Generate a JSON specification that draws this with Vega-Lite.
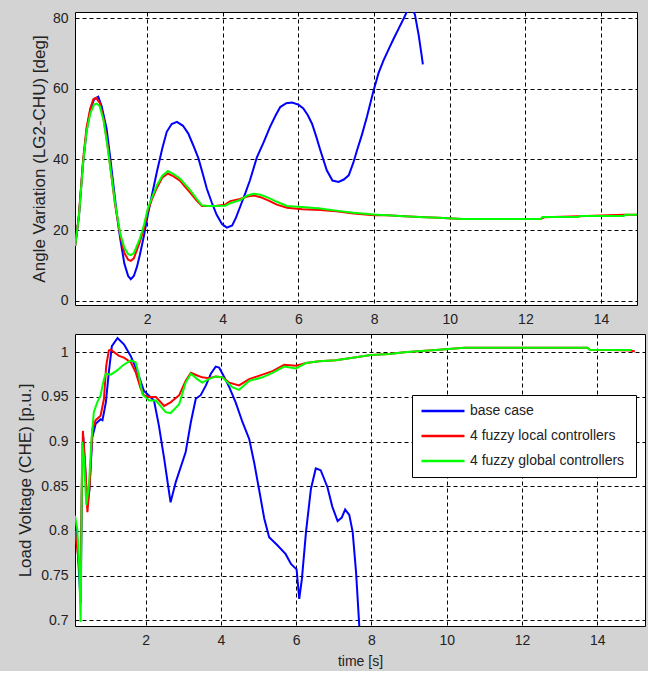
{
  "$schema": "https://vega.github.io/schema/vega-lite/v6.json",
  "background": "#d3d3d3",
  "padding": {"left": 16, "top": 10, "right": 2, "bottom": 2},
  "spacing": 6,
  "config": {
    "view": {"stroke": "black", "strokeWidth": 1, "fill": "white"},
    "axis": {
      "domain": false, "ticks": false, "grid": true, "gridColor": "black", "gridOpacity": 1,
      "gridDash": [4, 3], "gridWidth": 1,
      "labelFont": "Liberation Sans", "labelFontSize": 14, "labelColor": "#222",
      "labelPadding": 7,
      "titleFont": "Liberation Sans", "titleFontWeight": "normal", "titleColor": "#222"
    },
    "legend": {"labelFont": "Liberation Sans", "labelFontSize": 14, "labelColor": "#222"}
  },
  "resolve": {"scale": {"color": "independent"}, "legend": {"color": "independent"}},
  "datasets": {
    "top": [
      {"t":0.1,"v":15.5,"s":"base case"},{"t":0.2,"v":24,"s":"base case"},{"t":0.3,"v":38,"s":"base case"},{"t":0.4,"v":48,"s":"base case"},{"t":0.5,"v":54,"s":"base case"},{"t":0.6,"v":57,"s":"base case"},{"t":0.71,"v":57.7,"s":"base case"},{"t":0.8,"v":55,"s":"base case"},{"t":0.93,"v":48.7,"s":"base case"},{"t":1.02,"v":41,"s":"base case"},{"t":1.11,"v":32.8,"s":"base case"},{"t":1.2,"v":24.5,"s":"base case"},{"t":1.29,"v":17.6,"s":"base case"},{"t":1.4,"v":10.5,"s":"base case"},{"t":1.5,"v":7,"s":"base case"},{"t":1.57,"v":6.1,"s":"base case"},{"t":1.65,"v":7,"s":"base case"},{"t":1.73,"v":9.5,"s":"base case"},{"t":1.81,"v":13,"s":"base case"},{"t":1.92,"v":18.5,"s":"base case"},{"t":2.02,"v":24.3,"s":"base case"},{"t":2.14,"v":30.5,"s":"base case"},{"t":2.26,"v":36.5,"s":"base case"},{"t":2.4,"v":43,"s":"base case"},{"t":2.52,"v":47.8,"s":"base case"},{"t":2.65,"v":50,"s":"base case"},{"t":2.79,"v":50.6,"s":"base case"},{"t":2.95,"v":49.5,"s":"base case"},{"t":3.09,"v":47.3,"s":"base case"},{"t":3.22,"v":44,"s":"base case"},{"t":3.36,"v":40.2,"s":"base case"},{"t":3.47,"v":36,"s":"base case"},{"t":3.58,"v":31.7,"s":"base case"},{"t":3.71,"v":27.8,"s":"base case"},{"t":3.84,"v":24.3,"s":"base case"},{"t":3.98,"v":21.7,"s":"base case"},{"t":4.11,"v":20.7,"s":"base case"},{"t":4.25,"v":21.3,"s":"base case"},{"t":4.35,"v":23.5,"s":"base case"},{"t":4.46,"v":26.6,"s":"base case"},{"t":4.6,"v":30.5,"s":"base case"},{"t":4.72,"v":34.1,"s":"base case"},{"t":4.9,"v":40.5,"s":"base case"},{"t":5.08,"v":44.8,"s":"base case"},{"t":5.25,"v":49.2,"s":"base case"},{"t":5.4,"v":52.5,"s":"base case"},{"t":5.52,"v":54.8,"s":"base case"},{"t":5.68,"v":55.9,"s":"base case"},{"t":5.83,"v":56.1,"s":"base case"},{"t":6.0,"v":55.5,"s":"base case"},{"t":6.13,"v":54.4,"s":"base case"},{"t":6.25,"v":52.5,"s":"base case"},{"t":6.36,"v":50.1,"s":"base case"},{"t":6.47,"v":46.5,"s":"base case"},{"t":6.58,"v":42.6,"s":"base case"},{"t":6.75,"v":36.9,"s":"base case"},{"t":6.9,"v":34,"s":"base case"},{"t":7.06,"v":33.6,"s":"base case"},{"t":7.2,"v":34.3,"s":"base case"},{"t":7.33,"v":35.5,"s":"base case"},{"t":7.45,"v":39,"s":"base case"},{"t":7.55,"v":42.6,"s":"base case"},{"t":7.68,"v":47,"s":"base case"},{"t":7.81,"v":52,"s":"base case"},{"t":7.99,"v":59.6,"s":"base case"},{"t":8.12,"v":64.5,"s":"base case"},{"t":8.25,"v":68,"s":"base case"},{"t":8.4,"v":71.5,"s":"base case"},{"t":8.52,"v":74.2,"s":"base case"},{"t":8.65,"v":77,"s":"base case"},{"t":8.78,"v":79.8,"s":"base case"},{"t":8.9,"v":82.5,"s":"base case"},{"t":8.98,"v":83,"s":"base case"},{"t":9.08,"v":81,"s":"base case"},{"t":9.18,"v":75.1,"s":"base case"},{"t":9.25,"v":70,"s":"base case"},{"t":9.29,"v":66.9,"s":"base case"},

      {"t":0.1,"v":15.5,"s":"4 fuzzy  local controllers"},{"t":0.2,"v":24.5,"s":"4 fuzzy  local controllers"},{"t":0.31,"v":40,"s":"4 fuzzy  local controllers"},{"t":0.4,"v":49,"s":"4 fuzzy  local controllers"},{"t":0.5,"v":54.5,"s":"4 fuzzy  local controllers"},{"t":0.58,"v":57,"s":"4 fuzzy  local controllers"},{"t":0.65,"v":57.4,"s":"4 fuzzy  local controllers"},{"t":0.75,"v":56,"s":"4 fuzzy  local controllers"},{"t":0.85,"v":51.5,"s":"4 fuzzy  local controllers"},{"t":0.95,"v":44.5,"s":"4 fuzzy  local controllers"},{"t":1.05,"v":36,"s":"4 fuzzy  local controllers"},{"t":1.15,"v":27.5,"s":"4 fuzzy  local controllers"},{"t":1.29,"v":18.5,"s":"4 fuzzy  local controllers"},{"t":1.4,"v":13.5,"s":"4 fuzzy  local controllers"},{"t":1.5,"v":11.6,"s":"4 fuzzy  local controllers"},{"t":1.57,"v":11.3,"s":"4 fuzzy  local controllers"},{"t":1.65,"v":12,"s":"4 fuzzy  local controllers"},{"t":1.81,"v":16.7,"s":"4 fuzzy  local controllers"},{"t":1.92,"v":20.5,"s":"4 fuzzy  local controllers"},{"t":2.02,"v":25.5,"s":"4 fuzzy  local controllers"},{"t":2.14,"v":29,"s":"4 fuzzy  local controllers"},{"t":2.26,"v":32,"s":"4 fuzzy  local controllers"},{"t":2.4,"v":34.8,"s":"4 fuzzy  local controllers"},{"t":2.55,"v":36,"s":"4 fuzzy  local controllers"},{"t":2.7,"v":35.2,"s":"4 fuzzy  local controllers"},{"t":2.87,"v":34,"s":"4 fuzzy  local controllers"},{"t":3.0,"v":32.3,"s":"4 fuzzy  local controllers"},{"t":3.14,"v":30.6,"s":"4 fuzzy  local controllers"},{"t":3.3,"v":28.5,"s":"4 fuzzy  local controllers"},{"t":3.45,"v":26.8,"s":"4 fuzzy  local controllers"},{"t":3.6,"v":26.8,"s":"4 fuzzy  local controllers"},{"t":3.8,"v":26.8,"s":"4 fuzzy  local controllers"},{"t":4.06,"v":27.2,"s":"4 fuzzy  local controllers"},{"t":4.2,"v":28.2,"s":"4 fuzzy  local controllers"},{"t":4.46,"v":28.8,"s":"4 fuzzy  local controllers"},{"t":4.65,"v":29.5,"s":"4 fuzzy  local controllers"},{"t":4.81,"v":29.8,"s":"4 fuzzy  local controllers"},{"t":5.0,"v":29.3,"s":"4 fuzzy  local controllers"},{"t":5.2,"v":28.4,"s":"4 fuzzy  local controllers"},{"t":5.43,"v":27.2,"s":"4 fuzzy  local controllers"},{"t":5.7,"v":26.3,"s":"4 fuzzy  local controllers"},{"t":6.1,"v":25.9,"s":"4 fuzzy  local controllers"},{"t":6.58,"v":25.7,"s":"4 fuzzy  local controllers"},{"t":7.0,"v":25.3,"s":"4 fuzzy  local controllers"},{"t":7.46,"v":24.7,"s":"4 fuzzy  local controllers"},{"t":8.0,"v":24.2,"s":"4 fuzzy  local controllers"},{"t":8.34,"v":24.2,"s":"4 fuzzy  local controllers"},{"t":8.8,"v":23.9,"s":"4 fuzzy  local controllers"},{"t":9.2,"v":23.7,"s":"4 fuzzy  local controllers"},{"t":9.7,"v":23.5,"s":"4 fuzzy  local controllers"},{"t":10.33,"v":23.1,"s":"4 fuzzy  local controllers"},{"t":11,"v":23.1,"s":"4 fuzzy  local controllers"},{"t":12.4,"v":23.1,"s":"4 fuzzy  local controllers"},{"t":12.5,"v":23.6,"s":"4 fuzzy  local controllers"},{"t":13.4,"v":23.9,"s":"4 fuzzy  local controllers"},{"t":14.6,"v":24.3,"s":"4 fuzzy  local controllers"},{"t":15,"v":24.3,"s":"4 fuzzy  local controllers"},

      {"t":0.1,"v":15.5,"s":"4 fuzzy  global controllers"},{"t":0.2,"v":24,"s":"4 fuzzy  global controllers"},{"t":0.31,"v":39,"s":"4 fuzzy  global controllers"},{"t":0.4,"v":47.8,"s":"4 fuzzy  global controllers"},{"t":0.5,"v":53,"s":"4 fuzzy  global controllers"},{"t":0.6,"v":55.5,"s":"4 fuzzy  global controllers"},{"t":0.67,"v":55.8,"s":"4 fuzzy  global controllers"},{"t":0.75,"v":55,"s":"4 fuzzy  global controllers"},{"t":0.85,"v":51,"s":"4 fuzzy  global controllers"},{"t":0.95,"v":44,"s":"4 fuzzy  global controllers"},{"t":1.05,"v":36,"s":"4 fuzzy  global controllers"},{"t":1.15,"v":28,"s":"4 fuzzy  global controllers"},{"t":1.29,"v":19,"s":"4 fuzzy  global controllers"},{"t":1.4,"v":15,"s":"4 fuzzy  global controllers"},{"t":1.5,"v":13.2,"s":"4 fuzzy  global controllers"},{"t":1.57,"v":12.9,"s":"4 fuzzy  global controllers"},{"t":1.65,"v":13.5,"s":"4 fuzzy  global controllers"},{"t":1.81,"v":17.6,"s":"4 fuzzy  global controllers"},{"t":1.92,"v":21.5,"s":"4 fuzzy  global controllers"},{"t":2.02,"v":26.1,"s":"4 fuzzy  global controllers"},{"t":2.14,"v":29.5,"s":"4 fuzzy  global controllers"},{"t":2.26,"v":32.7,"s":"4 fuzzy  global controllers"},{"t":2.4,"v":35.3,"s":"4 fuzzy  global controllers"},{"t":2.55,"v":36.7,"s":"4 fuzzy  global controllers"},{"t":2.7,"v":35.8,"s":"4 fuzzy  global controllers"},{"t":2.87,"v":34.6,"s":"4 fuzzy  global controllers"},{"t":3.0,"v":33,"s":"4 fuzzy  global controllers"},{"t":3.14,"v":31.3,"s":"4 fuzzy  global controllers"},{"t":3.3,"v":29,"s":"4 fuzzy  global controllers"},{"t":3.45,"v":27,"s":"4 fuzzy  global controllers"},{"t":3.6,"v":26.8,"s":"4 fuzzy  global controllers"},{"t":3.8,"v":26.8,"s":"4 fuzzy  global controllers"},{"t":4.06,"v":26.9,"s":"4 fuzzy  global controllers"},{"t":4.2,"v":27.6,"s":"4 fuzzy  global controllers"},{"t":4.46,"v":28.5,"s":"4 fuzzy  global controllers"},{"t":4.65,"v":29.8,"s":"4 fuzzy  global controllers"},{"t":4.81,"v":30.3,"s":"4 fuzzy  global controllers"},{"t":5.0,"v":30,"s":"4 fuzzy  global controllers"},{"t":5.2,"v":29.2,"s":"4 fuzzy  global controllers"},{"t":5.43,"v":28,"s":"4 fuzzy  global controllers"},{"t":5.7,"v":26.8,"s":"4 fuzzy  global controllers"},{"t":6.1,"v":26.5,"s":"4 fuzzy  global controllers"},{"t":6.58,"v":26.1,"s":"4 fuzzy  global controllers"},{"t":7.0,"v":25.5,"s":"4 fuzzy  global controllers"},{"t":7.46,"v":24.9,"s":"4 fuzzy  global controllers"},{"t":8.0,"v":24.4,"s":"4 fuzzy  global controllers"},{"t":8.34,"v":24.2,"s":"4 fuzzy  global controllers"},{"t":8.8,"v":23.9,"s":"4 fuzzy  global controllers"},{"t":9.2,"v":23.7,"s":"4 fuzzy  global controllers"},{"t":9.7,"v":23.5,"s":"4 fuzzy  global controllers"},{"t":10.33,"v":23.1,"s":"4 fuzzy  global controllers"},{"t":11,"v":23.1,"s":"4 fuzzy  global controllers"},{"t":12.4,"v":23.1,"s":"4 fuzzy  global controllers"},{"t":12.45,"v":23.7,"s":"4 fuzzy  global controllers"},{"t":13.4,"v":23.7,"s":"4 fuzzy  global controllers"},{"t":13.45,"v":24.0,"s":"4 fuzzy  global controllers"},{"t":14.6,"v":24.0,"s":"4 fuzzy  global controllers"},{"t":14.65,"v":24.3,"s":"4 fuzzy  global controllers"},{"t":15,"v":24.3,"s":"4 fuzzy  global controllers"}
    ],
    "bottom": [
      {"t":0.12,"v":0.81,"s":"base case"},{"t":0.18,"v":0.79,"s":"base case"},{"t":0.23,"v":0.75,"s":"base case"},{"t":0.27,"v":0.72,"s":"base case"},{"t":0.31,"v":0.87,"s":"base case"},{"t":0.34,"v":0.905,"s":"base case"},{"t":0.39,"v":0.87,"s":"base case"},{"t":0.45,"v":0.83,"s":"base case"},{"t":0.5,"v":0.845,"s":"base case"},{"t":0.58,"v":0.905,"s":"base case"},{"t":0.67,"v":0.92,"s":"base case"},{"t":0.8,"v":0.925,"s":"base case"},{"t":0.85,"v":0.924,"s":"base case"},{"t":0.94,"v":0.944,"s":"base case"},{"t":1.02,"v":0.978,"s":"base case"},{"t":1.1,"v":1.007,"s":"base case"},{"t":1.25,"v":1.016,"s":"base case"},{"t":1.42,"v":1.009,"s":"base case"},{"t":1.6,"v":0.996,"s":"base case"},{"t":1.78,"v":0.978,"s":"base case"},{"t":1.95,"v":0.957,"s":"base case"},{"t":2.22,"v":0.946,"s":"base case"},{"t":2.35,"v":0.918,"s":"base case"},{"t":2.49,"v":0.881,"s":"base case"},{"t":2.66,"v":0.832,"s":"base case"},{"t":2.8,"v":0.855,"s":"base case"},{"t":3.06,"v":0.888,"s":"base case"},{"t":3.2,"v":0.922,"s":"base case"},{"t":3.33,"v":0.948,"s":"base case"},{"t":3.46,"v":0.952,"s":"base case"},{"t":3.6,"v":0.963,"s":"base case"},{"t":3.73,"v":0.976,"s":"base case"},{"t":3.86,"v":0.984,"s":"base case"},{"t":3.95,"v":0.983,"s":"base case"},{"t":4.04,"v":0.976,"s":"base case"},{"t":4.22,"v":0.961,"s":"base case"},{"t":4.39,"v":0.944,"s":"base case"},{"t":4.57,"v":0.922,"s":"base case"},{"t":4.75,"v":0.903,"s":"base case"},{"t":4.88,"v":0.877,"s":"base case"},{"t":5.01,"v":0.847,"s":"base case"},{"t":5.15,"v":0.814,"s":"base case"},{"t":5.28,"v":0.793,"s":"base case"},{"t":5.5,"v":0.784,"s":"base case"},{"t":5.72,"v":0.774,"s":"base case"},{"t":5.86,"v":0.763,"s":"base case"},{"t":6.01,"v":0.757,"s":"base case"},{"t":6.08,"v":0.724,"s":"base case"},{"t":6.15,"v":0.746,"s":"base case"},{"t":6.26,"v":0.799,"s":"base case"},{"t":6.39,"v":0.847,"s":"base case"},{"t":6.52,"v":0.87,"s":"base case"},{"t":6.65,"v":0.868,"s":"base case"},{"t":6.83,"v":0.849,"s":"base case"},{"t":6.96,"v":0.827,"s":"base case"},{"t":7.1,"v":0.811,"s":"base case"},{"t":7.21,"v":0.815,"s":"base case"},{"t":7.3,"v":0.824,"s":"base case"},{"t":7.41,"v":0.818,"s":"base case"},{"t":7.5,"v":0.799,"s":"base case"},{"t":7.59,"v":0.754,"s":"base case"},{"t":7.67,"v":0.698,"s":"base case"},{"t":7.72,"v":0.66,"s":"base case"},

      {"t":0.12,"v":0.80,"s":"4 fuzzy  local controllers"},{"t":0.18,"v":0.78,"s":"4 fuzzy  local controllers"},{"t":0.23,"v":0.76,"s":"4 fuzzy  local controllers"},{"t":0.27,"v":0.75,"s":"4 fuzzy  local controllers"},{"t":0.3,"v":0.85,"s":"4 fuzzy  local controllers"},{"t":0.33,"v":0.912,"s":"4 fuzzy  local controllers"},{"t":0.39,"v":0.874,"s":"4 fuzzy  local controllers"},{"t":0.45,"v":0.821,"s":"4 fuzzy  local controllers"},{"t":0.51,"v":0.851,"s":"4 fuzzy  local controllers"},{"t":0.58,"v":0.914,"s":"4 fuzzy  local controllers"},{"t":0.67,"v":0.924,"s":"4 fuzzy  local controllers"},{"t":0.8,"v":0.929,"s":"4 fuzzy  local controllers"},{"t":0.89,"v":0.948,"s":"4 fuzzy  local controllers"},{"t":0.95,"v":0.985,"s":"4 fuzzy  local controllers"},{"t":1.02,"v":1.002,"s":"4 fuzzy  local controllers"},{"t":1.07,"v":1.003,"s":"4 fuzzy  local controllers"},{"t":1.29,"v":0.996,"s":"4 fuzzy  local controllers"},{"t":1.42,"v":0.994,"s":"4 fuzzy  local controllers"},{"t":1.6,"v":0.989,"s":"4 fuzzy  local controllers"},{"t":1.73,"v":0.978,"s":"4 fuzzy  local controllers"},{"t":1.87,"v":0.959,"s":"4 fuzzy  local controllers"},{"t":1.95,"v":0.952,"s":"4 fuzzy  local controllers"},{"t":2.09,"v":0.95,"s":"4 fuzzy  local controllers"},{"t":2.27,"v":0.95,"s":"4 fuzzy  local controllers"},{"t":2.49,"v":0.94,"s":"4 fuzzy  local controllers"},{"t":2.66,"v":0.944,"s":"4 fuzzy  local controllers"},{"t":2.89,"v":0.952,"s":"4 fuzzy  local controllers"},{"t":3.06,"v":0.968,"s":"4 fuzzy  local controllers"},{"t":3.2,"v":0.977,"s":"4 fuzzy  local controllers"},{"t":3.37,"v":0.974,"s":"4 fuzzy  local controllers"},{"t":3.5,"v":0.972,"s":"4 fuzzy  local controllers"},{"t":3.68,"v":0.971,"s":"4 fuzzy  local controllers"},{"t":3.86,"v":0.973,"s":"4 fuzzy  local controllers"},{"t":4.04,"v":0.972,"s":"4 fuzzy  local controllers"},{"t":4.22,"v":0.966,"s":"4 fuzzy  local controllers"},{"t":4.48,"v":0.963,"s":"4 fuzzy  local controllers"},{"t":4.75,"v":0.97,"s":"4 fuzzy  local controllers"},{"t":5.1,"v":0.975,"s":"4 fuzzy  local controllers"},{"t":5.37,"v":0.979,"s":"4 fuzzy  local controllers"},{"t":5.68,"v":0.986,"s":"4 fuzzy  local controllers"},{"t":5.99,"v":0.985,"s":"4 fuzzy  local controllers"},{"t":6.26,"v":0.988,"s":"4 fuzzy  local controllers"},{"t":6.61,"v":0.99,"s":"4 fuzzy  local controllers"},{"t":7.05,"v":0.991,"s":"4 fuzzy  local controllers"},{"t":7.5,"v":0.994,"s":"4 fuzzy  local controllers"},{"t":7.98,"v":0.997,"s":"4 fuzzy  local controllers"},{"t":8.47,"v":0.998,"s":"4 fuzzy  local controllers"},{"t":8.87,"v":1.0,"s":"4 fuzzy  local controllers"},{"t":9.8,"v":1.003,"s":"4 fuzzy  local controllers"},{"t":10.47,"v":1.005,"s":"4 fuzzy  local controllers"},{"t":13.74,"v":1.005,"s":"4 fuzzy  local controllers"},{"t":13.8,"v":1.003,"s":"4 fuzzy  local controllers"},{"t":14.9,"v":1.002,"s":"4 fuzzy  local controllers"},{"t":15.0,"v":1.001,"s":"4 fuzzy  local controllers"},

      {"t":0.12,"v":0.817,"s":"4 fuzzy  global controllers"},{"t":0.18,"v":0.802,"s":"4 fuzzy  global controllers"},{"t":0.23,"v":0.762,"s":"4 fuzzy  global controllers"},{"t":0.27,"v":0.698,"s":"4 fuzzy  global controllers"},{"t":0.31,"v":0.9,"s":"4 fuzzy  global controllers"},{"t":0.36,"v":0.881,"s":"4 fuzzy  global controllers"},{"t":0.42,"v":0.829,"s":"4 fuzzy  global controllers"},{"t":0.49,"v":0.851,"s":"4 fuzzy  global controllers"},{"t":0.56,"v":0.903,"s":"4 fuzzy  global controllers"},{"t":0.62,"v":0.933,"s":"4 fuzzy  global controllers"},{"t":0.71,"v":0.944,"s":"4 fuzzy  global controllers"},{"t":0.8,"v":0.952,"s":"4 fuzzy  global controllers"},{"t":0.89,"v":0.97,"s":"4 fuzzy  global controllers"},{"t":0.94,"v":0.976,"s":"4 fuzzy  global controllers"},{"t":1.07,"v":0.975,"s":"4 fuzzy  global controllers"},{"t":1.25,"v":0.98,"s":"4 fuzzy  global controllers"},{"t":1.38,"v":0.985,"s":"4 fuzzy  global controllers"},{"t":1.6,"v":0.991,"s":"4 fuzzy  global controllers"},{"t":1.73,"v":0.989,"s":"4 fuzzy  global controllers"},{"t":1.82,"v":0.974,"s":"4 fuzzy  global controllers"},{"t":1.91,"v":0.953,"s":"4 fuzzy  global controllers"},{"t":2.09,"v":0.946,"s":"4 fuzzy  global controllers"},{"t":2.27,"v":0.946,"s":"4 fuzzy  global controllers"},{"t":2.53,"v":0.933,"s":"4 fuzzy  global controllers"},{"t":2.66,"v":0.932,"s":"4 fuzzy  global controllers"},{"t":2.89,"v":0.942,"s":"4 fuzzy  global controllers"},{"t":3.06,"v":0.966,"s":"4 fuzzy  global controllers"},{"t":3.2,"v":0.976,"s":"4 fuzzy  global controllers"},{"t":3.37,"v":0.97,"s":"4 fuzzy  global controllers"},{"t":3.5,"v":0.966,"s":"4 fuzzy  global controllers"},{"t":3.68,"v":0.97,"s":"4 fuzzy  global controllers"},{"t":3.86,"v":0.973,"s":"4 fuzzy  global controllers"},{"t":4.04,"v":0.972,"s":"4 fuzzy  global controllers"},{"t":4.3,"v":0.961,"s":"4 fuzzy  global controllers"},{"t":4.48,"v":0.958,"s":"4 fuzzy  global controllers"},{"t":4.75,"v":0.968,"s":"4 fuzzy  global controllers"},{"t":5.1,"v":0.972,"s":"4 fuzzy  global controllers"},{"t":5.37,"v":0.977,"s":"4 fuzzy  global controllers"},{"t":5.68,"v":0.984,"s":"4 fuzzy  global controllers"},{"t":5.99,"v":0.982,"s":"4 fuzzy  global controllers"},{"t":6.26,"v":0.988,"s":"4 fuzzy  global controllers"},{"t":6.61,"v":0.99,"s":"4 fuzzy  global controllers"},{"t":7.05,"v":0.991,"s":"4 fuzzy  global controllers"},{"t":7.5,"v":0.994,"s":"4 fuzzy  global controllers"},{"t":7.98,"v":0.997,"s":"4 fuzzy  global controllers"},{"t":8.47,"v":0.998,"s":"4 fuzzy  global controllers"},{"t":8.87,"v":1.0,"s":"4 fuzzy  global controllers"},{"t":9.8,"v":1.003,"s":"4 fuzzy  global controllers"},{"t":10.47,"v":1.005,"s":"4 fuzzy  global controllers"},{"t":13.74,"v":1.005,"s":"4 fuzzy  global controllers"},{"t":13.8,"v":1.003,"s":"4 fuzzy  global controllers"},{"t":14.9,"v":1.0025,"s":"4 fuzzy  global controllers"}
    ]
  },
  "vconcat": [
    {
      "width": 562, "height": 293,
      "data": {"name": "top"},
      "mark": {"type": "line", "strokeWidth": 2, "clip": true},
      "encoding": {
        "x": {"field": "t", "type": "quantitative", "scale": {"domain": [0.095, 14.95], "nice": false, "zero": false},
              "axis": {"values": [2,4,6,8,10,12,14], "title": null}},
        "y": {"field": "v", "type": "quantitative", "scale": {"domain": [-1.2, 81.7], "nice": false, "zero": false},
              "axis": {"values": [0,20,40,60,80], "title": "Angle Variation (LG2-CHU) [deg]", "titleFontSize": 17, "titlePadding": 4}},
        "color": {"field": "s", "type": "nominal",
                  "scale": {"domain": ["base case", "4 fuzzy  local controllers", "4 fuzzy  global controllers"], "range": ["#0000ff", "#ff0000", "#00ff00"]},
                  "legend": null}
      }
    },
    {
      "width": 570, "height": 292,
      "data": {"name": "bottom"},
      "mark": {"type": "line", "strokeWidth": 2, "clip": true},
      "encoding": {
        "x": {"field": "t", "type": "quantitative", "scale": {"domain": [0.12, 15.27], "nice": false, "zero": false},
              "axis": {"values": [2,4,6,8,10,12,14], "title": "time [s]", "titleFontSize": 14, "titlePadding": 7}},
        "y": {"field": "v", "type": "quantitative", "scale": {"domain": [0.6936, 1.0205], "nice": false, "zero": false},
              "axis": {"values": [0.7,0.75,0.8,0.85,0.9,0.95,1], "format": "~g", "title": "Load Voltage (CHE) [p.u.]", "titleFontSize": 17, "titlePadding": 6}},
        "color": {"field": "s", "type": "nominal",
                  "scale": {"domain": ["base case", "4 fuzzy  local controllers", "4 fuzzy  global controllers"], "range": ["#0000ff", "#ff0000", "#00ff00"]},
                  "legend": {"title": null, "orient": "none", "legendX": 337, "legendY": 61,
                             "fillColor": "white", "strokeColor": "black", "padding": 8,
                             "symbolType": "stroke", "symbolSize": 1849, "symbolStrokeWidth": 2.5,
                             "clipHeight": 16, "labelOffset": 4, "rowPadding": 9}}
      }
    }
  ]
}
